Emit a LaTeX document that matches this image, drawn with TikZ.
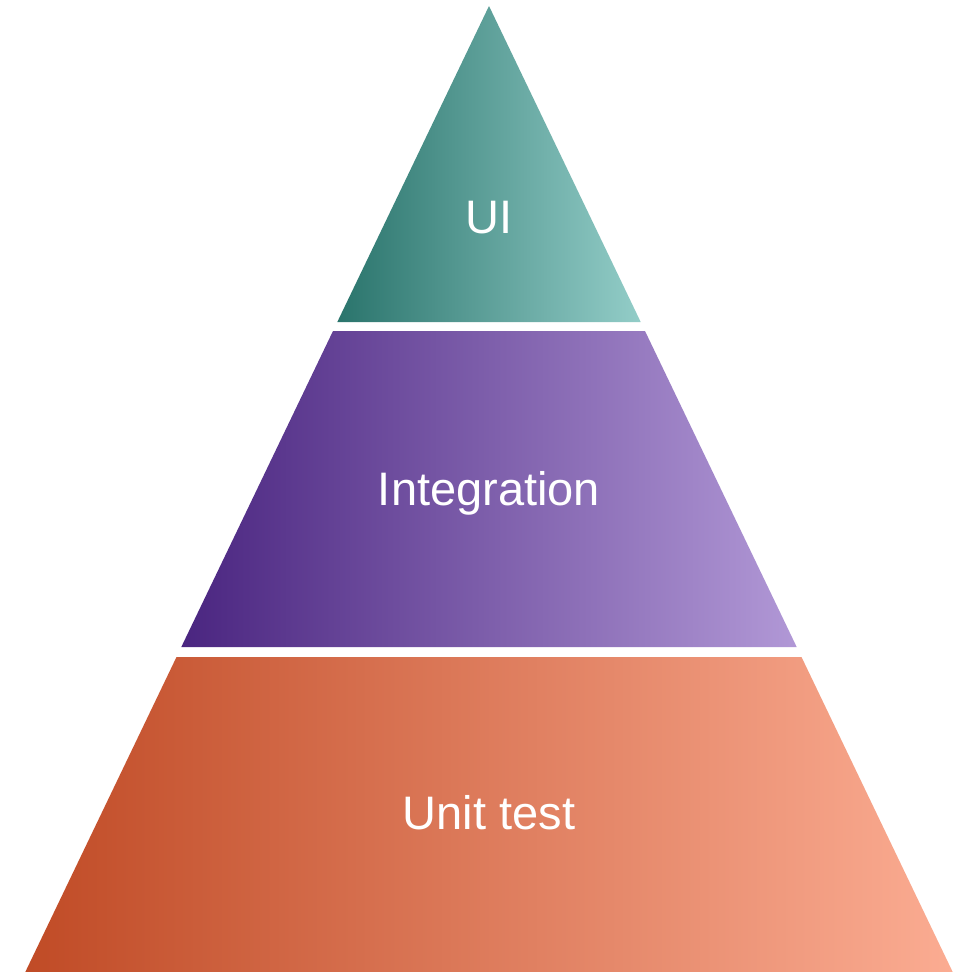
\documentclass[tikz,border=0pt]{standalone}
\usepackage{fontspec}
\setmainfont{Liberation Sans}
\definecolor{tealL}{HTML}{2A746C}
\definecolor{tealR}{HTML}{93CDC8}
\definecolor{purpL}{HTML}{4A2580}
\definecolor{purpR}{HTML}{B198D6}
\definecolor{orngL}{HTML}{C04B26}
\definecolor{orngR}{HTML}{FBAC92}
\tikzset{
  lbl/.style={text=white, inner sep=0pt, anchor=base, font=\fontsize{47}{56}\selectfont}
}
\begin{document}
\begin{tikzpicture}[x=1pt,y=-1pt]
\useasboundingbox (0,0) rectangle (955,972);
\fill[white] (0,0) rectangle (955,972);
\begin{scope}
\clip (0,0) rectangle (955,972);
\shade[left color=tealL, right color=tealR] (489,6) -- (640.7,322) -- (337.3,322) -- cycle;
\shade[left color=purpL, right color=purpR] (333,331) -- (645,331) -- (796.7,647) -- (181.3,647) -- cycle;
\shade[left color=orngL, right color=orngR] (176.5,657) -- (801.5,657) -- (952.7,972) -- (25.3,972) -- cycle;
\end{scope}
\node[lbl] (ui) at (489,233) {UI};
\node[lbl] (integ) at (489,505) {Integration};
\node[lbl] (unit) at (489,829) {Unit test};
\end{tikzpicture}
\end{document}
